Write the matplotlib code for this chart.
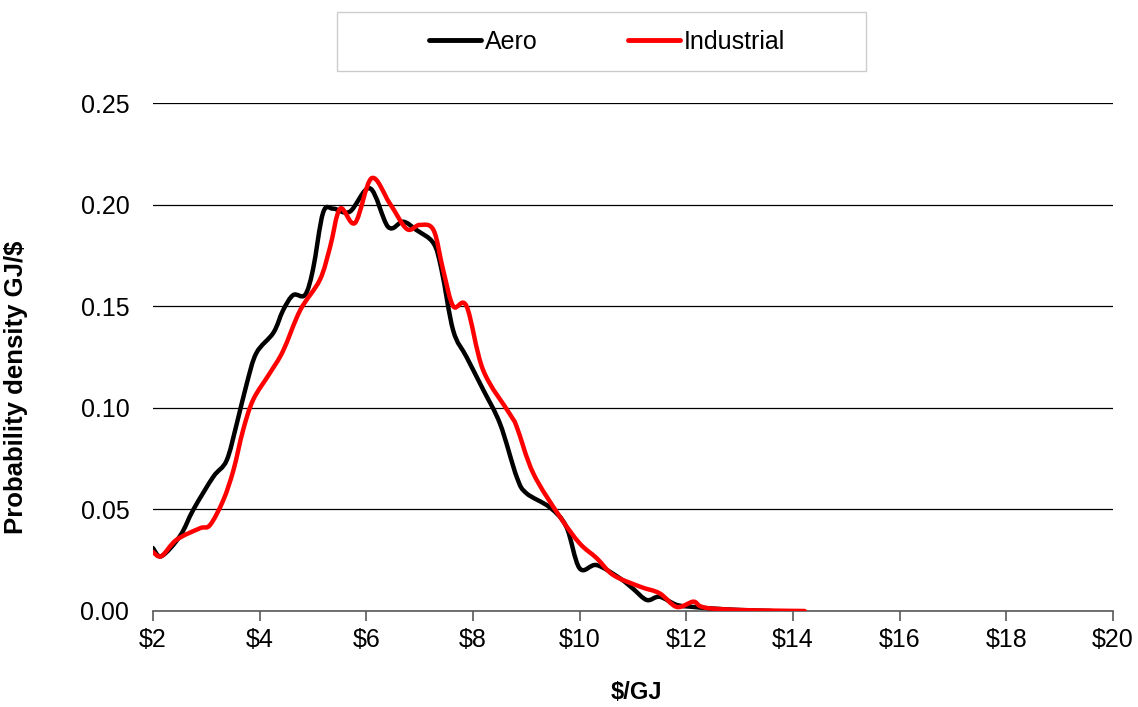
import numpy as np
import matplotlib
matplotlib.use('Agg')
import matplotlib.pyplot as plt
from matplotlib.path import Path
from matplotlib.patches import PathPatch, Rectangle
from matplotlib.lines import Line2D

plt.rcParams['font.family'] = ['Liberation Sans', 'DejaVu Sans']

# values
aero_x = [2.0, 2.16, 2.51, 2.76, 3.13, 3.38, 3.57, 3.76, 3.94, 4.26, 4.44, 4.63, 4.85,
          5.0, 5.19, 5.38, 5.69, 6.07, 6.41, 6.69, 6.94, 7.26, 7.41, 7.63, 7.88, 8.19,
          8.51, 8.82, 9.0, 9.44, 9.75, 10.0, 10.32, 10.76, 11.0, 11.26, 11.5, 11.82,
          12.13, 12.5, 13.0, 13.6]
aero_y = [0.031, 0.027, 0.037, 0.050, 0.066, 0.074, 0.092, 0.112, 0.127, 0.137, 0.148,
          0.1555, 0.1555, 0.168, 0.196, 0.198, 0.1965, 0.208, 0.189, 0.1916, 0.1875,
          0.181, 0.168, 0.138, 0.125, 0.109, 0.092, 0.066, 0.058, 0.051, 0.0415, 0.021,
          0.0226, 0.016, 0.011, 0.0054, 0.007, 0.003, 0.002, 0.0012, 0.0005, 0.0]

ind_x = [2.0, 2.16, 2.44, 2.88, 3.07, 3.32, 3.51, 3.69, 3.88, 4.19, 4.44, 4.76, 5.13,
         5.32, 5.51, 5.79, 6.1, 6.44, 6.76, 7.0, 7.26, 7.44, 7.63, 7.88, 8.19, 8.69,
         8.82, 9.13, 9.63, 10.0, 10.32, 10.63, 11.13, 11.5, 11.82, 12.13, 12.25, 12.44,
         13.0, 13.6, 14.22]
ind_y = [0.029, 0.027, 0.035, 0.0407, 0.0423, 0.0546, 0.0694, 0.089, 0.104, 0.117,
         0.128, 0.148, 0.163, 0.179, 0.198, 0.191, 0.213, 0.2006, 0.188, 0.19, 0.1875,
         0.168, 0.15, 0.15, 0.1186, 0.097, 0.0907, 0.0678, 0.0464, 0.0333, 0.026, 0.0177,
         0.012, 0.0087, 0.002, 0.0046, 0.0025, 0.0013, 0.0005, 0.0002, 0.0]

xticks = [2, 4, 6, 8, 10, 12, 14, 16, 18, 20]
yticks = [0.0, 0.05, 0.10, 0.15, 0.20, 0.25]


def smooth_path(xs, ys):
    # excel-style smoothed line: catmull-rom segments as cubic beziers
    P = np.column_stack([xs, ys])
    n = len(P)
    verts = [P[0]]
    codes = [Path.MOVETO]
    for i in range(n - 1):
        p0 = P[i - 1] if i > 0 else P[i]
        p1 = P[i]
        p2 = P[i + 1]
        p3 = P[i + 2] if i + 2 < n else P[i + 1]
        verts += [p1 + (p2 - p0) / 6.0, p2 - (p3 - p1) / 6.0, p2]
        codes += [Path.CURVE4] * 3
    return Path(verts, codes)


fig = plt.figure(figsize=(11.38, 7.07), dpi=100)
ax = fig.add_axes([0.1344, 0.1358, 0.8436, 0.7185])

lw = 3.2
ax.add_patch(PathPatch(smooth_path(aero_x, aero_y), fc='none', ec='black', lw=lw,
                       joinstyle='round', capstyle='round', zorder=3))
ax.add_patch(PathPatch(smooth_path(ind_x, ind_y), fc='none', ec='#ff0000', lw=lw,
                       joinstyle='round', capstyle='round', zorder=4))

ax.set_xlim(2, 20)
ax.set_ylim(0, 0.25)
ax.set_xticks(xticks)
ax.set_xticklabels(['\\$%d' % v for v in xticks])
ax.set_yticks(yticks)
ax.set_yticklabels(['%.2f' % v for v in yticks])
ax.yaxis.grid(True, color='black', lw=0.9)
ax.set_axisbelow(True)
for s in ['top', 'right', 'left']:
    ax.spines[s].set_visible(False)
ax.spines['bottom'].set_color('#595959')
ax.spines['bottom'].set_linewidth(1.2)
ax.tick_params(axis='y', length=0, labelsize=18, pad=17)
ax.tick_params(axis='x', length=7, width=1.2, color='#595959', labelsize=18, pad=5,
               direction='out')

ax.set_xlabel('\\$/GJ', fontsize=17, fontweight='bold')
ax.xaxis.set_label_coords(0.504, -0.138)
ax.set_ylabel('Probability density GJ/\\$', fontsize=18.5, fontweight='bold')
ax.yaxis.set_label_coords(-0.13, 0.44)

# legend box
fig.patches.append(Rectangle((337 / 1138, 1 - 71 / 707), 529 / 1138, 59 / 707,
                             transform=fig.transFigure, fc='white', ec='#cccccc', lw=1.0))
handles = [Line2D([], [], color='black', lw=3.5, solid_capstyle='round'),
           Line2D([], [], color='#ff0000', lw=3.5, solid_capstyle='round')]
fig.legend(handles, ['Aero', 'Industrial'], loc='center',
           bbox_to_anchor=(607 / 1138, 1 - 42 / 707), ncol=2, fontsize=18,
           frameon=False, handlelength=2.1, handletextpad=0.15, columnspacing=3.6)

fig.savefig('out.png', dpi=100)
